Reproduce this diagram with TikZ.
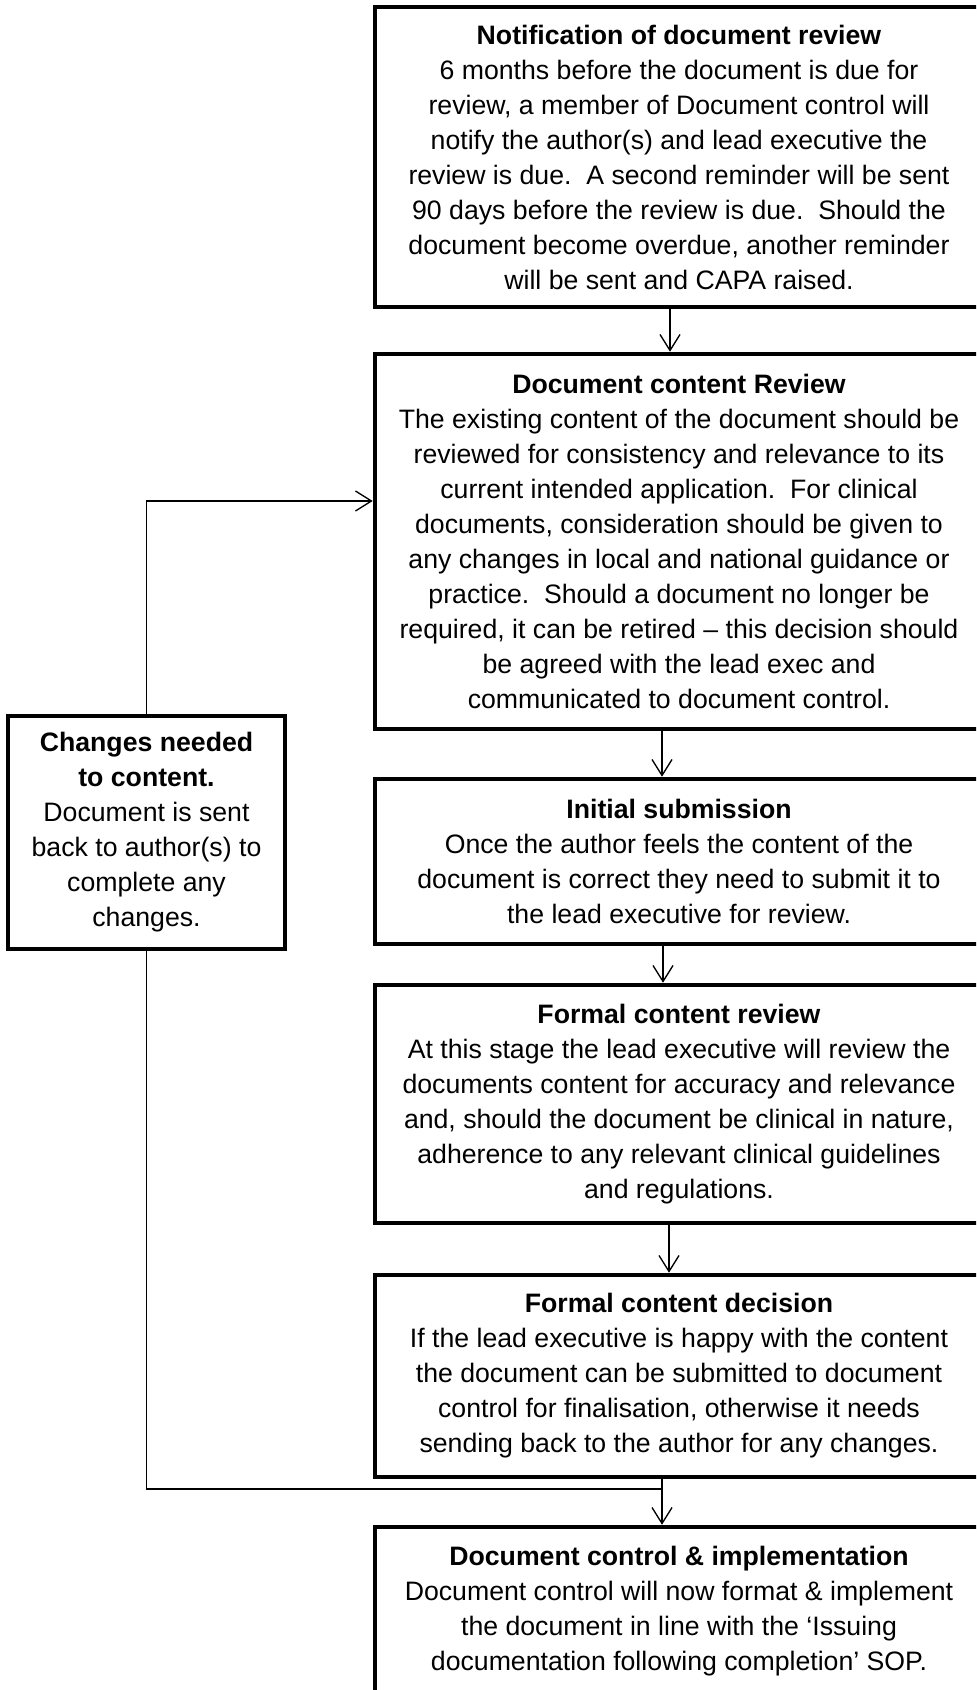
\documentclass[tikz,border=0pt]{standalone}
\usepackage{fontspec}
\setmainfont{Liberation Sans}
\usetikzlibrary{arrows.meta}
\frenchspacing
\begin{document}
\begin{tikzpicture}[x=0.75pt,y=-0.75pt,
  box/.style={draw, rectangle, line width=3.4pt, align=center, inner sep=0pt,
    font=\fontsize{20pt}{26.25pt}\selectfont},
  rbox/.style={box, minimum width=456pt},
  conn/.style={line width=1pt, -{Straight Barb[length=12pt,width=15pt,line width=1pt]}},
  plain/.style={line width=1pt}]
\useasboundingbox (0,0) rectangle (976,1690);
\clip (0,0) rectangle (976,1690);

\node[rbox, minimum height=225pt] (n1) at (679,157) {\textbf{Notification of document review}\\
6 months before the document is due for\\
review, a member of Document control will\\
notify the author(s) and lead executive the\\
review is due.~ A second reminder will be sent\\
90 days before the review is due.~ Should the\\
document become overdue, another reminder\\
will be sent and CAPA raised.};

\node[rbox, minimum height=281.25pt] (n2) at (679,541.5) {\textbf{Document content Review}\\
The existing content of the document should be\\
reviewed for consistency and relevance to its\\
current intended application.~ For clinical\\
documents, consideration should be given to\\
any changes in local and national guidance or\\
practice.~ Should a document no longer be\\
required, it can be retired – this decision should\\
be agreed with the lead exec and\\
communicated to document control.};

\node[rbox, minimum height=123.75pt] (n3) at (679,861.5) {\textbf{Initial submission}\\
Once the author feels the content of the\\
document is correct they need to submit it to\\
the lead executive for review.};

\node[rbox, minimum height=178.5pt] (n4) at (679,1104) {\textbf{Formal content review}\\
At this stage the lead executive will review the\\
documents content for accuracy and relevance\\
and, should the document be clinical in nature,\\
adherence to any relevant clinical guidelines\\
and regulations.};

\node[rbox, minimum height=151.5pt] (n5) at (679,1376) {\textbf{Formal content decision}\\
If the lead executive is happy with the content\\
the document can be submitted to document\\
control for finalisation, otherwise it needs\\
sending back to the author for any changes.};

\node[rbox, minimum height=126pt] (n6) at (679,1611) {\textbf{Document control \& implementation}\\
Document control will now format \& implement\\
the document in line with the ‘Issuing\\
documentation following completion’ SOP.};

\node[box, minimum width=207.75pt, minimum height=174.75pt] (ch) at (146.5,832.5) {\textbf{Changes needed}\\
\textbf{to content.}\\
Document is sent\\
back to author(s) to\\
complete any\\
changes.};

\coordinate (x1) at (670,0);
\coordinate (x2) at (662,0);
\coordinate (x3) at (663,0);
\coordinate (x4) at (669,0);
\coordinate (x5) at (662,0);
\coordinate (lp) at (146.5,501);
\coordinate (jn) at (662,1489);

\draw[conn] (n1.south -| x1) -- (n2.north -| x1);
\draw[conn] (n2.south -| x2) -- (n3.north -| x2);
\draw[conn] (n3.south -| x3) -- (n4.north -| x3);
\draw[conn] (n4.south -| x4) -- (n5.north -| x4);
\draw[conn] (n5.south -| x5) -- (n6.north -| x5);
\draw[conn] (ch.north) -- (lp) -- (lp -| n2.west);
\draw[plain] (ch.south) |- (jn);
\end{tikzpicture}
\end{document}
